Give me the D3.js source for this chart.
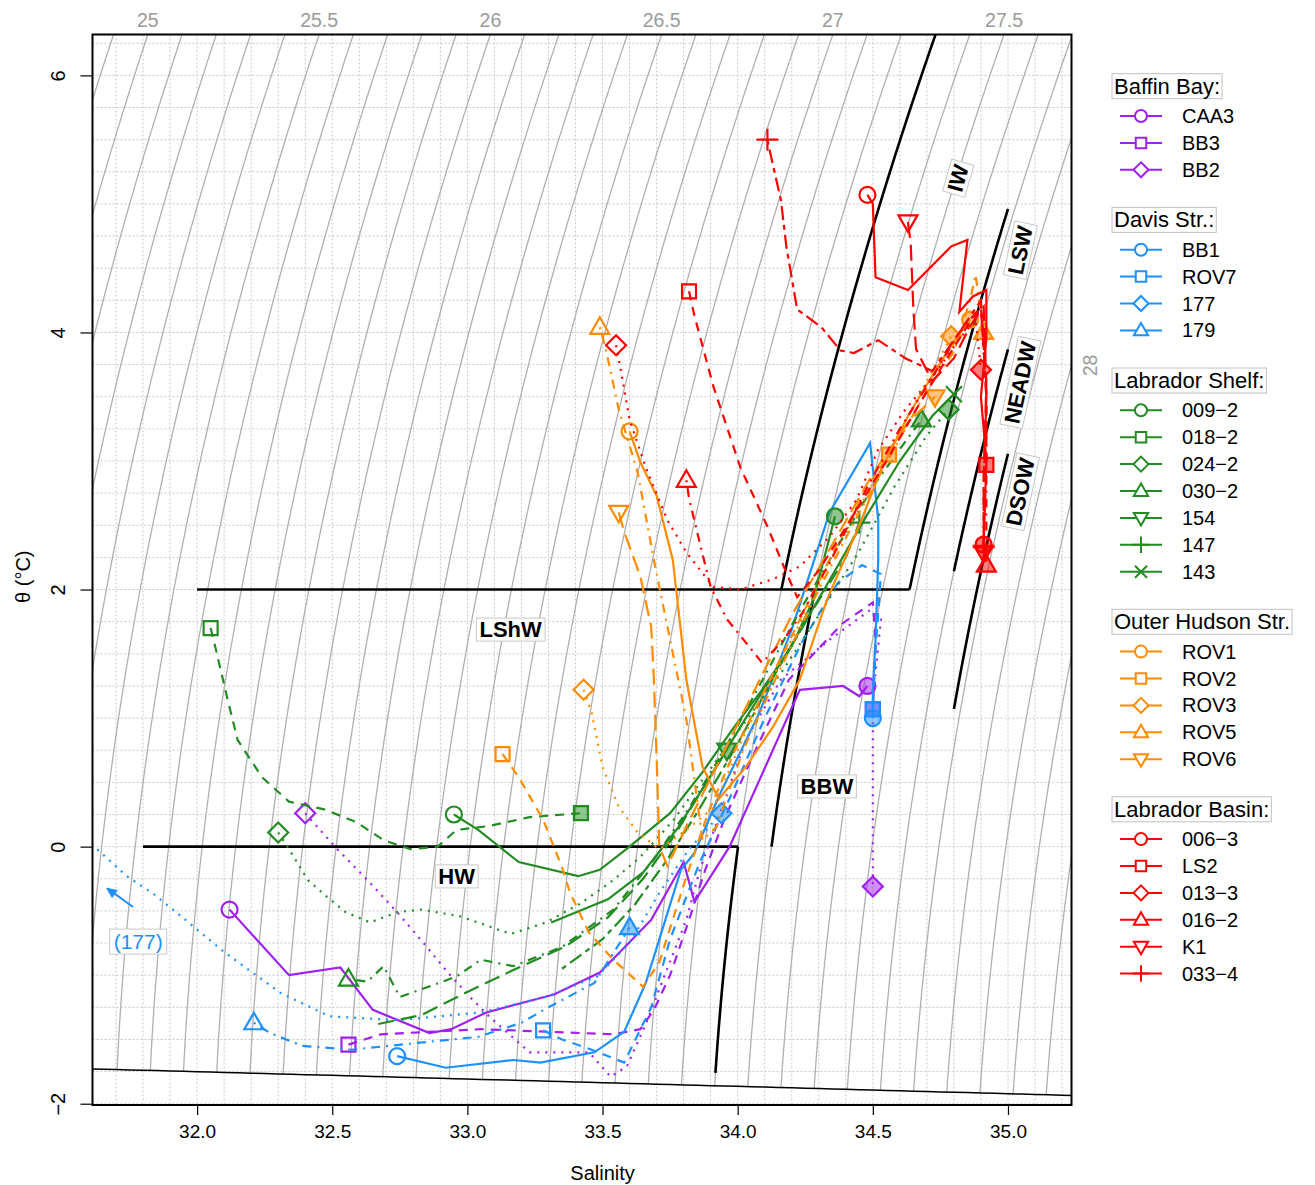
<!DOCTYPE html>
<html>
<head>
<meta charset="utf-8">
<script src="https://cdn.jsdelivr.net/npm/d3@7"></script>
<style>
  body { margin: 0; background: #fff; }
  text { font-family: "Liberation Sans", Arial, Helvetica, sans-serif; }
</style>
</head>
<body>
<svg id="chart" width="1315" height="1185"></svg>
<script>
// ---- station profiles: [salinity, potential temperature] ----
// Baffin Bay
const CAA3 = [[32.12,-0.49],[32.34,-1.00],[32.53,-0.94],[32.65,-1.27],[32.86,-1.45],[32.94,-1.42],[33.07,-1.29],[33.32,-1.15],[33.49,-0.98],[33.68,-0.57],[33.80,-0.12],[33.84,-0.43],[33.97,0.00],[34.23,1.22],[34.39,1.25],[34.45,1.17],[34.48,1.25]];
const BB3 = [[32.56,-1.54],[32.68,-1.46],[33.05,-1.42],[33.54,-1.46],[33.64,-1.42],[33.69,-1.27],[33.75,-1.00],[33.82,-0.57],[33.88,-0.18],[33.95,0.21],[34.05,0.68],[34.19,1.30],[34.39,1.74],[34.50,1.90],[34.51,1.61],[34.50,1.07]];
const BB2 = [[32.40,0.26],[32.51,0.00],[32.63,-0.26],[32.74,-0.51],[32.85,-0.78],[32.92,-0.96],[33.01,-1.17],[33.08,-1.32],[33.23,-1.60],[33.45,-1.60],[33.53,-1.79],[33.59,-1.71],[33.66,-1.38],[33.73,-1.00],[33.81,-0.57],[33.86,-0.18],[33.94,0.29],[34.03,0.83],[34.16,1.30],[34.34,1.61],[34.49,1.84],[34.53,1.77],[34.50,1.14],[34.50,0.37],[34.50,-0.31]];
// Davis Strait
const BB1 = [[32.74,-1.63],[32.92,-1.72],[33.17,-1.66],[33.27,-1.68],[33.47,-1.60],[33.58,-1.44],[33.66,-1.06],[33.79,-0.18],[33.84,-0.05],[33.93,0.39],[34.08,1.04],[34.20,1.69],[34.34,2.60],[34.49,3.14],[34.52,2.54],[34.52,2.23],[34.51,1.61],[34.50,1.22],[34.50,1.00]];
const ROV7 = [[33.28,-1.43],[33.35,-1.50],[33.46,-1.58],[33.58,-1.68],[33.68,-1.25],[33.75,-0.72],[33.86,-0.12],[33.98,0.42],[34.10,1.00],[34.24,1.60],[34.37,2.05],[34.46,2.19],[34.53,2.12],[34.51,1.53],[34.50,1.07]];
const ST177 = [[31.45,0.30],[31.63,-0.02],[31.74,-0.23],[31.84,-0.37],[31.94,-0.54],[32.10,-0.82],[32.31,-1.14],[32.49,-1.32],[32.74,-1.35],[33.05,-1.29],[33.29,-1.17],[33.48,-1.01],[33.60,-0.75],[33.71,-0.36],[33.82,-0.02],[33.94,0.26]];
const ST179 = [[32.21,-1.37],[32.27,-1.45],[32.39,-1.55],[32.57,-1.58],[32.80,-1.53],[33.04,-1.48],[33.20,-1.37],[33.30,-1.25],[33.47,-1.06],[33.60,-0.63]];
// Labrador Shelf
const ST009_2 = [[32.95,0.25],[33.04,0.13],[33.19,-0.12],[33.41,-0.23],[33.49,-0.18],[33.60,0.00],[33.75,0.26],[33.87,0.58],[33.98,0.91],[34.09,1.22],[34.20,1.56],[34.28,1.92],[34.36,2.57]];
const ST018_2 = [[32.05,1.70],[32.07,1.53],[32.11,1.17],[32.15,0.83],[32.24,0.54],[32.34,0.35],[32.47,0.29],[32.59,0.19],[32.69,0.05],[32.79,-0.02],[32.89,0.00],[32.96,0.13],[33.08,0.16],[33.23,0.23],[33.42,0.26]];
const ST024_2 = [[32.30,0.11],[32.34,-0.02],[32.41,-0.26],[32.48,-0.39],[32.55,-0.51],[32.64,-0.59],[32.74,-0.51],[32.83,-0.49],[32.97,-0.54],[33.08,-0.62],[33.16,-0.68],[33.29,-0.59],[33.42,-0.44],[33.54,-0.26],[33.64,-0.08],[33.76,0.20],[33.88,0.55],[34.02,0.95],[34.16,1.35],[34.30,1.80],[34.45,2.30],[34.58,2.80],[34.70,3.20],[34.78,3.40]];
const ST030_2 = [[32.56,-1.03],[32.63,-1.05],[32.69,-0.93],[32.75,-1.17],[32.83,-1.11],[32.96,-1.01],[33.05,-0.88],[33.17,-0.93],[33.35,-0.78],[33.54,-0.49],[33.69,-0.10],[33.82,0.30],[33.95,0.75],[34.08,1.25],[34.22,1.80],[34.36,2.30],[34.50,2.80],[34.62,3.15],[34.68,3.32]];
const ST154 = [[32.67,-1.38],[32.83,-1.31],[33.00,-1.13],[33.18,-0.95],[33.36,-0.78],[33.52,-0.55],[33.65,-0.25],[33.77,0.10],[33.87,0.45],[33.96,0.75]];
const ST147 = [[33.35,-0.95],[33.50,-0.72],[33.62,-0.45],[33.74,-0.10],[33.86,0.30],[34.00,0.80],[34.14,1.35],[34.28,1.85],[34.40,2.25],[34.45,2.52]];
const ST143 = [[33.31,-0.59],[33.52,-0.41],[33.65,-0.20],[33.78,0.15],[33.90,0.55],[34.03,1.00],[34.18,1.50],[34.32,2.00],[34.47,2.55],[34.60,3.00],[34.72,3.35],[34.80,3.52]];
// Outer Hudson Strait
const ROV1 = [[33.60,3.23],[33.64,2.99],[33.70,2.73],[33.76,2.23],[33.81,1.30],[33.87,0.62],[33.93,0.37],[34.03,0.62],[34.13,0.93],[34.23,1.30],[34.33,1.92],[34.45,2.50],[34.53,2.93],[34.63,3.35],[34.71,3.63],[34.79,3.90],[34.86,4.10]];
const ROV2 = [[33.13,0.72],[33.19,0.54],[33.28,0.21],[33.35,-0.16],[33.38,-0.36],[33.45,-0.67],[33.54,-0.88],[33.65,-1.09],[33.71,-0.90],[33.80,-0.30],[33.89,0.26],[34.00,0.80],[34.12,1.30],[34.25,1.85],[34.38,2.40],[34.48,2.80],[34.56,3.05]];
const ROV3 = [[33.43,1.22],[33.46,1.04],[33.50,0.62],[33.56,0.31],[33.63,0.11],[33.71,-0.02],[33.81,0.13],[33.91,0.30],[34.02,0.85],[34.15,1.40],[34.28,1.95],[34.40,2.45],[34.52,2.90],[34.63,3.35],[34.72,3.70],[34.79,3.97]];
const ROV5 = [[33.49,4.04],[33.51,3.89],[33.56,3.40],[33.63,2.91],[33.69,2.23],[33.74,1.71],[33.78,1.30],[33.81,0.99],[33.84,0.52],[33.87,0.05],[33.92,0.15],[34.02,0.75],[34.15,1.35],[34.30,2.00],[34.45,2.60],[34.58,3.10],[34.70,3.55],[34.80,3.85],[34.86,4.25],[34.88,4.45],[34.91,4.00]];
const ROV6 = [[33.56,2.60],[33.58,2.45],[33.64,2.10],[33.68,1.71],[33.69,1.30],[33.70,0.70],[33.71,0.00],[33.74,-0.15],[33.82,0.20],[33.94,0.70],[34.07,1.25],[34.20,1.80],[34.35,2.35],[34.50,2.90],[34.63,3.30],[34.73,3.50]];
// Labrador Basin
const ST006_3 = [[34.48,5.07],[34.50,5.00],[34.51,4.43],[34.63,4.33],[34.79,4.67],[34.85,4.72],[34.82,4.16],[34.87,4.28],[34.92,4.33],[34.92,3.95],[34.90,3.50],[34.92,3.00],[34.91,2.35]];
const LS2 = [[33.82,4.32],[33.84,4.13],[33.91,3.58],[34.01,2.95],[34.11,2.49],[34.18,2.13],[34.22,1.94],[34.30,2.15],[34.42,2.55],[34.55,3.00],[34.66,3.40],[34.76,3.75],[34.85,4.05],[34.90,4.20],[34.92,3.60],[34.92,2.97]];
const ST013_3 = [[33.55,3.90],[33.57,3.68],[33.60,3.32],[33.66,2.95],[33.74,2.54],[33.81,2.29],[33.91,2.02],[34.01,2.00],[34.13,2.08],[34.23,2.18],[34.34,2.41],[34.44,2.70],[34.52,3.09],[34.62,3.40],[34.72,3.65],[34.82,3.95],[34.88,4.10],[34.90,3.71]];
const ST016_2 = [[33.81,2.85],[33.82,2.71],[33.86,2.36],[33.90,2.02],[33.96,1.77],[34.06,1.51],[34.09,1.43],[34.17,1.61],[34.24,1.82],[34.35,2.25],[34.48,2.80],[34.60,3.25],[34.72,3.65],[34.82,4.00],[34.90,4.20],[34.92,3.50],[34.92,2.80],[34.92,2.19]];
const K1 = [[34.63,4.86],[34.64,4.70],[34.65,4.18],[34.66,3.87],[34.72,3.62],[34.80,3.80],[34.86,4.05],[34.91,4.20],[34.92,3.60],[34.91,2.90],[34.91,2.29]];
const ST033_4 = [[34.11,5.50],[34.12,5.40],[34.16,5.03],[34.18,4.67],[34.22,4.18],[34.31,4.04],[34.38,3.86],[34.43,3.84],[34.52,3.94],[34.62,3.80],[34.72,3.70],[34.82,4.00],[34.90,4.25],[34.92,3.50],[34.91,2.80],[34.91,2.33]];

// ---- groups / legend ----
const groupNames = ["Baffin Bay:", "Davis Str.:", "Labrador Shelf:", "Outer Hudson Str.", "Labrador Basin:"];
const groupColors = ["#A020F0", "#1E90FF", "#228B22", "#FF8C00", "#FF0000"];
const groupStations = [
  [["CAA3", CAA3], ["BB3", BB3], ["BB2", BB2]],
  [["BB1", BB1], ["ROV7", ROV7], ["177", ST177], ["179", ST179]],
  [["009\u22122", ST009_2], ["018\u22122", ST018_2], ["024\u22122", ST024_2], ["030\u22122", ST030_2], ["154", ST154], ["147", ST147], ["143", ST143]],
  [["ROV1", ROV1], ["ROV2", ROV2], ["ROV3", ROV3], ["ROV5", ROV5], ["ROV6", ROV6]],
  [["006\u22123", ST006_3], ["LS2", LS2], ["013\u22123", ST013_3], ["016\u22122", ST016_2], ["K1", K1], ["033\u22124", ST033_4]]
];
const markerTypes = ["circle", "square", "diamond", "triangle", "triangleDown", "plus", "cross"];
const lineTypes = ["solid", "dashed", "dotted", "dotdash", "longdash", "twodash", "solid"];
const hiddenStart = ["154", "147", "143"];

// ---- axes ----
const salTicks = [32.0, 32.5, 33.0, 33.5, 34.0, 34.5, 35.0];
const tempTicks = [-2, 0, 2, 4, 6];

// ---- water mass boundaries (isopycnals sigma-theta, isotherms, salinity limits) ----
const wmSigma = { HW: 27.30, BBW: 27.40, IW: 27.30, LSW: 27.68, NEADW: 27.80, DSOW: 27.88 };
const wmTheta = [-1.76, 0, 2];
const wmSal = { HWleft: 31.80, LShWleft: 32.0, deepLow: 34.8, deepHigh: 35.0 };
const wmLabels = [
  ["LShW", 33.16, 1.69, 0], ["HW", 32.96, -0.23, 0], ["BBW", 34.33, 0.47, 0],
  ["IW", 34.815, 5.20, -74], ["LSW", 35.045, 4.64, -78], ["NEADW", 35.045, 3.61, -78], ["DSOW", 35.045, 2.76, -78]
];

const dash = { solid: null, dashed: "9,7", dotted: "2,6", dotdash: "2,6,9,6", longdash: "16,7", twodash: "5,5,14,5" };

const svg = d3.select("#chart");
const pL = 92.5, pR = 1071.5, pT = 34.5, pB = 1105;
const xS = d3.scaleLinear().domain([31.613, 35.235]).range([pL, pR]);
const yT = d3.scaleLinear().domain([-2.01, 6.318]).range([pB, pT]);

svg.append("defs").append("clipPath").attr("id", "plotclip")
  .append("rect").attr("x", pL).attr("y", pT).attr("width", pR - pL).attr("height", pB - pT);

// grid
const grid = svg.append("g").attr("clip-path", "url(#plotclip)");
d3.range(317, 353).map(v => v / 10).forEach(s => {
  grid.append("line").attr("x1", xS(s)).attr("x2", xS(s)).attr("y1", pT).attr("y2", pB)
    .attr("stroke", "#c8c8c8").attr("stroke-width", 1).attr("stroke-dasharray", "2,2");
});
d3.range(-8, 26).map(v => v / 4).forEach(t => {
  grid.append("line").attr("x1", pL).attr("x2", pR).attr("y1", yT(t)).attr("y2", yT(t))
    .attr("stroke", "#c8c8c8").attr("stroke-width", 1).attr("stroke-dasharray", "2,2");
});

// density (sigma-theta, EOS-80 at surface)
function sigmaTheta(S, T) {
  const rw = 999.842594 + 6.793952e-2 * T - 9.095290e-3 * T * T + 1.001685e-4 * T ** 3 - 1.120083e-6 * T ** 4 + 6.536332e-9 * T ** 5;
  const A = 8.24493e-1 - 4.0899e-3 * T + 7.6438e-5 * T * T - 8.2467e-7 * T ** 3 + 5.3875e-9 * T ** 4;
  const B = -5.72466e-3 + 1.0227e-4 * T - 1.6546e-6 * T * T;
  return rw + A * S + B * S ** 1.5 + 4.8314e-4 * S * S - 1000;
}
function freezing(S) { return -0.0575 * S + 1.710523e-3 * S ** 1.5 - 2.154996e-4 * S * S; }
function salFor(level, T) {
  let lo = 20, hi = 42;
  for (let i = 0; i < 50; i++) { const m = (lo + hi) / 2; if (sigmaTheta(m, T) < level) lo = m; else hi = m; }
  return (lo + hi) / 2;
}
function tempAtSal(level, S) {
  let lo = -3, hi = 10;
  for (let i = 0; i < 50; i++) { const m = (lo + hi) / 2; if (salFor(level, m) < S) lo = m; else hi = m; }
  return (lo + hi) / 2;
}
function tempAtFreezing(level) {
  let lo = -3, hi = 1;
  for (let i = 0; i < 40; i++) { const m = (lo + hi) / 2; if (m < freezing(salFor(level, m))) lo = m; else hi = m; }
  return hi;
}
function isoSeg(level, t0, t1) {
  const pts = [];
  const n = 60;
  for (let i = 0; i <= n; i++) { const t = t0 + (t1 - t0) * i / n; pts.push([salFor(level, t), t]); }
  return pts;
}
const line = d3.line().x(d => xS(d[0])).y(d => yT(d[1]));
const levels = d3.range(248, 286).map(v => v / 10);
const cont = svg.append("g").attr("clip-path", "url(#plotclip)");
levels.forEach(lv => {
  const pts = isoSeg(lv, tempAtFreezing(lv), 6.5);
  cont.append("path").attr("d", line(pts)).attr("fill", "none").attr("stroke", "#b0b0b0").attr("stroke-width", 1.3);
});
levels.filter(lv => Math.abs(lv * 2 - Math.round(lv * 2)) < 1e-6).forEach(lv => {
  const sTop = salFor(lv, 6.318);
  if (sTop >= 31.613 && sTop <= 35.235) {
    svg.append("text").attr("x", xS(sTop)).attr("y", 27).attr("text-anchor", "middle")
      .attr("font-size", 19.5).attr("fill", "#9a9a9a").text(d3.format("")(lv));
  } else if (sTop > 35.235) {
    const t = tempAtSal(lv, 35.235);
    if (t > -2 && t < 6.318) {
      svg.append("text").attr("transform", `translate(1097,${yT(t)}) rotate(-90)`).attr("text-anchor", "middle")
        .attr("font-size", 19.5).attr("fill", "#9a9a9a").text(d3.format("")(lv));
    }
  }
});

// freezing line
const fz = d3.range(31.5, 35.3, 0.05).map(s => [s, freezing(s)]);
svg.append("path").attr("clip-path", "url(#plotclip)").attr("d", line(fz))
  .attr("fill", "none").attr("stroke", "#000").attr("stroke-width", 1.5);

// water mass boundaries
const wmLines = [
  [[wmSal.LShWleft, wmTheta[2]], [salFor(wmSigma.LSW, wmTheta[2]), wmTheta[2]]],
  [[wmSal.HWleft, wmTheta[1]], [salFor(wmSigma.HW, wmTheta[1]), wmTheta[1]]],
  isoSeg(wmSigma.HW, wmTheta[0], wmTheta[1]),
  isoSeg(wmSigma.BBW, wmTheta[1], wmTheta[2]),
  isoSeg(wmSigma.IW, wmTheta[2], 6.5),
  isoSeg(wmSigma.LSW, wmTheta[2], tempAtSal(wmSigma.LSW, wmSal.deepHigh)),
  isoSeg(wmSigma.NEADW, tempAtSal(wmSigma.NEADW, wmSal.deepLow), tempAtSal(wmSigma.NEADW, wmSal.deepHigh)),
  isoSeg(wmSigma.DSOW, tempAtSal(wmSigma.DSOW, wmSal.deepLow), tempAtSal(wmSigma.DSOW, wmSal.deepHigh))
];
const wm = svg.append("g").attr("clip-path", "url(#plotclip)");
wmLines.forEach(l => wm.append("path").attr("d", line(l)).attr("fill", "none").attr("stroke", "#000").attr("stroke-width", 2.6));

// markers
function markerPath(type, k) {
  const p = d3.path();
  if (type === "circle") { p.moveTo(8 * k, 0); p.arc(0, 0, 8 * k, 0, 2 * Math.PI); }
  else if (type === "square") { p.rect(-7 * k, -7 * k, 14 * k, 14 * k); }
  else if (type === "diamond") { p.moveTo(0, -10 * k); p.lineTo(10 * k, 0); p.lineTo(0, 10 * k); p.lineTo(-10 * k, 0); p.closePath(); }
  else if (type === "triangle") { p.moveTo(0, -10 * k); p.lineTo(9.5 * k, 6.5 * k); p.lineTo(-9.5 * k, 6.5 * k); p.closePath(); }
  else if (type === "triangleDown") { p.moveTo(0, 10 * k); p.lineTo(9.5 * k, -6.5 * k); p.lineTo(-9.5 * k, -6.5 * k); p.closePath(); }
  else if (type === "plus") { p.moveTo(-11 * k, 0); p.lineTo(11 * k, 0); p.moveTo(0, -11 * k); p.lineTo(0, 11 * k); }
  else if (type === "cross") { p.moveTo(-8 * k, -8 * k); p.lineTo(8 * k, 8 * k); p.moveTo(-8 * k, 8 * k); p.lineTo(8 * k, -8 * k); }
  return p.toString();
}

// profiles
const prof = svg.append("g").attr("clip-path", "url(#plotclip)");
groupStations.forEach((stations, gi) => {
  const col = groupColors[gi];
  stations.forEach(([name, data], si) => {
    prof.append("path").attr("d", line(data)).attr("fill", "none").attr("stroke", col)
      .attr("stroke-width", 2.2).attr("stroke-dasharray", dash[lineTypes[si]]);
    const mt = markerTypes[si];
    const first = data[0], last = data[data.length - 1];
    if (!hiddenStart.includes(name)) {
      prof.append("path").attr("d", markerPath(mt, 1)).attr("transform", `translate(${xS(first[0])},${yT(first[1])})`)
        .attr("fill", "none").attr("stroke", col).attr("stroke-width", 2.2);
    }
    prof.append("path").attr("d", markerPath(mt, 1)).attr("transform", `translate(${xS(last[0])},${yT(last[1])})`)
      .attr("fill", col).attr("fill-opacity", 0.5).attr("stroke", col).attr("stroke-width", 2.2);
  });
});

// water mass labels
wmLabels.forEach(([txt, s, t, rot]) => {
  const g = svg.append("g").attr("transform", `translate(${xS(s)},${yT(t)}) rotate(${rot})`);
  const tx = g.append("text").attr("text-anchor", "middle").attr("dy", "0.35em")
    .attr("font-size", 22).attr("font-weight", "bold").text(txt);
  const bb = tx.node().getBBox();
  g.insert("rect", "text").attr("x", bb.x - 3).attr("y", bb.y + 1).attr("width", bb.width + 6).attr("height", bb.height - 2)
    .attr("fill", "#fff").attr("stroke", "#c8c8c8").attr("stroke-width", 1);
});

// (177) annotation
const ann = svg.append("g");
ann.append("line").attr("x1", xS(31.763)).attr("y1", yT(-0.47)).attr("x2", xS(31.668)).attr("y2", yT(-0.325))
  .attr("stroke", "#1E90FF").attr("stroke-width", 2);
ann.append("path").attr("d", "M0,0 L-11,-5 L-11,5 Z").attr("fill", "#1E90FF")
  .attr("transform", `translate(${xS(31.663)},${yT(-0.32)}) rotate(${Math.atan2(yT(-0.32) - yT(-0.47), xS(31.663) - xS(31.763)) * 180 / Math.PI})`);
{
  const g = ann.append("g").attr("transform", `translate(${xS(31.782)},${yT(-0.74)})`);
  const tx = g.append("text").attr("text-anchor", "middle").attr("dy", "0.35em").attr("font-size", 21)
    .attr("fill", "#1E90FF").text("(177)");
  const bb = tx.node().getBBox();
  g.insert("rect", "text").attr("x", bb.x - 4).attr("y", bb.y - 1).attr("width", bb.width + 8).attr("height", bb.height + 2)
    .attr("fill", "#fff").attr("stroke", "#c8c8c8");
}

// axes
const xAxis = svg.append("g").attr("transform", `translate(0,${pB})`)
  .call(d3.axisBottom(xS).tickValues(salTicks).tickFormat(d3.format(".1f")).tickSize(10).tickPadding(10));
xAxis.select(".domain").remove();
xAxis.selectAll("text").attr("font-size", 19).attr("fill", "#000");
xAxis.selectAll("line").attr("stroke", "#000").attr("stroke-width", 1.2);

const yAxis = svg.append("g").attr("transform", `translate(${pL},0)`)
  .call(d3.axisLeft(yT).tickValues(tempTicks).tickFormat(d3.format("")).tickSize(12));
yAxis.select(".domain").remove();
yAxis.selectAll("line").attr("stroke", "#000").attr("stroke-width", 1.2);
yAxis.selectAll("text").attr("font-size", 20).attr("fill", "#000")
  .attr("text-anchor", "middle").attr("x", 0).attr("dy", 0)
  .attr("transform", "translate(-28,0) rotate(-90)");

svg.append("rect").attr("x", pL).attr("y", pT).attr("width", pR - pL).attr("height", pB - pT)
  .attr("fill", "none").attr("stroke", "#000").attr("stroke-width", 2);

svg.append("text").attr("x", xS(33.5)).attr("y", 1180).attr("text-anchor", "middle")
  .attr("font-size", 20).text("Salinity");
svg.append("text").attr("transform", `translate(30,${yT(2.1)}) rotate(-90)`).attr("text-anchor", "middle")
  .attr("font-size", 20).text("\u03b8 (\u00b0C)");

// legend
const legend = svg.append("g");
let ly = 86;
groupStations.forEach((stations, gi) => {
  const col = groupColors[gi];
  const tt = legend.append("text").attr("x", 1114).attr("y", ly).attr("dy", "0.35em").attr("font-size", 22).text(groupNames[gi]);
  const bb = tt.node().getBBox();
  legend.insert("rect", "text").attr("x", bb.x - 2).attr("y", bb.y).attr("width", bb.width + 4).attr("height", bb.height)
    .attr("fill", "#fff").attr("stroke", "#c0c0c0");
  ly += 30;
  stations.forEach(([name], si) => {
    legend.append("line").attr("x1", 1120).attr("x2", 1162).attr("y1", ly).attr("y2", ly)
      .attr("stroke", col).attr("stroke-width", 2);
    legend.append("path").attr("d", markerPath(markerTypes[si], 0.75)).attr("transform", `translate(1141,${ly})`)
      .attr("fill", markerTypes[si] === "plus" || markerTypes[si] === "cross" ? "none" : "#fff")
      .attr("stroke", col).attr("stroke-width", 2);
    legend.append("text").attr("x", 1182).attr("y", ly).attr("dy", "0.35em").attr("font-size", 20).text(name);
    ly += 26.9;
  });
  ly += 23;
});
</script>
</body>
</html>
